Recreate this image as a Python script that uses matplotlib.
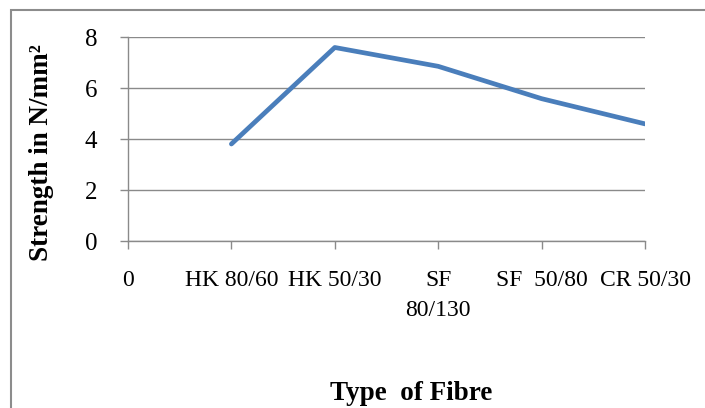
import matplotlib.pyplot as plt
from matplotlib.patches import Rectangle

fibres = ['0', 'HK 80/60', 'HK 50/30', 'SF\n80/130', 'SF  50/80', 'CR 50/30']
strength = [3.81, 7.6, 6.86, 5.59, 4.6]
yticks = [0, 2, 4, 6, 8]

plt.rcParams['font.family'] = ['Liberation Serif', 'DejaVu Serif']

fig = plt.figure(figsize=(7.05, 4.08), dpi=100)
ax = fig.add_axes([128 / 705, 1 - 241 / 408, (645 - 128) / 705, (241 - 37.3) / 408])

# outer chart border, cut off at right and bottom as in the source
fig.patches.append(Rectangle((11 / 705, -0.1), 1.2, 1 - 10 / 408 + 0.1,
                             transform=fig.transFigure, fill=False,
                             edgecolor='#8c8c8c', lw=1.5))

ax.plot(range(1, len(strength) + 1), strength, color='#4a7ebb', lw=3.4,
        solid_capstyle='round', solid_joinstyle='round', zorder=3)

ax.set_xlim(0, 5)
ax.set_ylim(0, 8)
ax.set_xticks(range(len(fibres)))
ax.set_xticklabels(fibres, fontsize=17, linespacing=1.55)
ax.set_yticks(yticks)
ax.set_yticklabels([str(v) for v in yticks], fontsize=18)
ax.yaxis.grid(True, color='#8a8a8a', lw=1)
ax.set_axisbelow(True)

for s in ['top', 'right']:
    ax.spines[s].set_visible(False)
for s in ['left', 'bottom']:
    ax.spines[s].set_color('#8a8a8a')
    ax.spines[s].set_linewidth(1)
ax.tick_params(axis='both', color='#8a8a8a', length=6, width=1)
ax.tick_params(axis='x', pad=15)
ax.tick_params(axis='y', pad=16)

fig.text(411 / 705, 1 - 393 / 408, 'Type  of Fibre', ha='center', va='center',
         fontsize=19.5, fontweight='bold')
fig.text(42 / 705, 1 - 153 / 408, 'Strength in N/mm²', ha='center',
         va='center', rotation=90, fontsize=19.5, fontweight='bold')

fig.savefig('out.png', dpi=100)
